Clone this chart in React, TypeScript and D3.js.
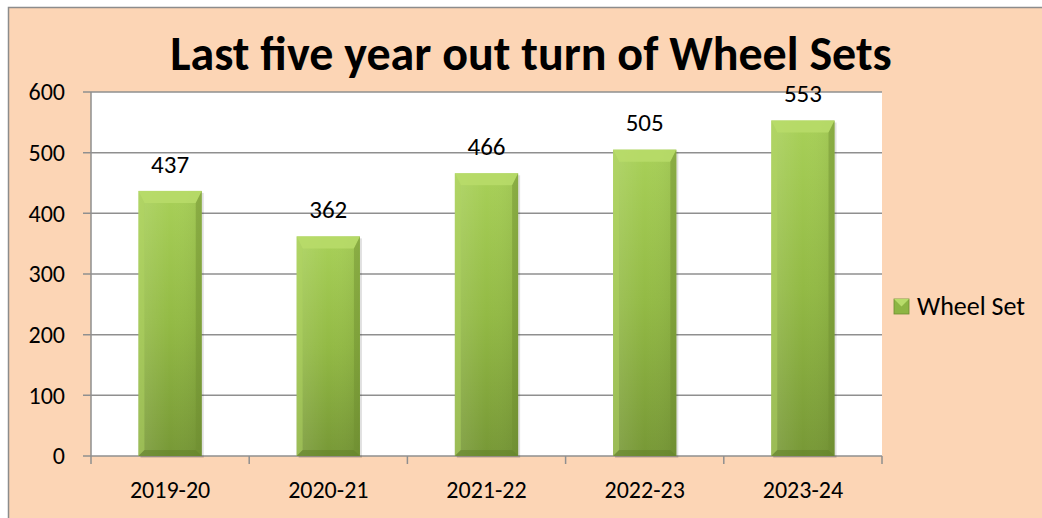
import React from "react";
import * as d3 from "d3";

const categories = ["2019-20", "2020-21", "2021-22", "2022-23", "2023-24"];
const values = [437, 362, 466, 505, 553];
const yTicks = [0, 100, 200, 300, 400, 500, 600];
const seriesName = "Wheel Set";
const title = "Last five year out turn of Wheel Sets";

const W = 1042, H = 518;
const plot = { left: 91, right: 882, top: 92, bottom: 456 };
const FONT = "Carlito, Calibri, Lato, 'Open Sans', sans-serif";

export default function App() {
  const x = d3.scaleBand<string>().domain(categories).range([plot.left, plot.right]).paddingInner(0.6).paddingOuter(0.3);
  const xb = d3.scaleBand<string>().domain(categories).range([plot.left, plot.right]);
  const y = d3.scaleLinear().domain([0, 600]).range([plot.bottom, plot.top]);
  const bw = x.bandwidth();
  const bev = 6;
  return (
    <svg width={W} height={H} style={{ position: "absolute", left: 0, top: 0 }}>
      <defs>
        <linearGradient id="barG" x1="0" y1="0" x2="0" y2="1">
          <stop offset="0" stopColor="#A8D058" />
          <stop offset="0.5" stopColor="#93BA45" />
          <stop offset="1" stopColor="#779836" />
        </linearGradient>
        <linearGradient id="barH" x1="0" y1="0" x2="1" y2="0">
          <stop offset="0" stopColor="#ffffff" stopOpacity="0.12" />
          <stop offset="0.5" stopColor="#ffffff" stopOpacity="0" />
          <stop offset="1" stopColor="#000000" stopOpacity="0.06" />
        </linearGradient>
      </defs>
      <rect x={8.5} y={7.5} width={W + 20} height={H + 20} fill="#FCD5B5" stroke="#8c8c8c" strokeWidth={1.5} />
      <rect x={plot.left} y={plot.top} width={plot.right - plot.left} height={plot.bottom - plot.top} fill="#ffffff" />
      {yTicks.map((t) => (
        <g key={t}>
          <line x1={plot.left - 8} x2={plot.right} y1={y(t)} y2={y(t)} stroke="#8f8f8f" strokeWidth={1.5} />
          <text x={65} y={y(t)} dy="0.35em" textAnchor="end" fontFamily={FONT} fontSize={24} fill="#000">{t}</text>
        </g>
      ))}
      <line x1={plot.left} x2={plot.left} y1={plot.top} y2={plot.bottom + 8} stroke="#8f8f8f" strokeWidth={1.5} />
      {categories.map((c) => (
        <line key={"t" + c} x1={(xb(c) as number) + xb.bandwidth()} x2={(xb(c) as number) + xb.bandwidth()} y1={plot.bottom} y2={plot.bottom + 8} stroke="#8f8f8f" strokeWidth={1.5} />
      ))}
      {categories.map((c, i) => {
        const x0 = x(c) as number;
        const y0 = y(values[i]);
        const y1 = y(0);
        return (
          <g key={c}>
            <rect x={x0 + 2} y={y0 + 2} width={bw} height={y1 - y0} fill="#000" opacity={0.12} />
            <rect x={x0} y={y0} width={bw} height={y1 - y0} fill="url(#barG)" />
            <rect x={x0} y={y0} width={bw} height={y1 - y0} fill="url(#barH)" />
            <polygon points={`${x0},${y0} ${x0 + bw},${y0} ${x0 + bw - bev},${y0 + bev * 2} ${x0 + bev},${y0 + bev * 2}`} fill="#B8DC6A" opacity={0.85} />
            <polygon points={`${x0},${y0} ${x0 + bev},${y0 + bev * 2} ${x0 + bev},${y1 - bev} ${x0},${y1}`} fill="#B0D460" opacity={0.5} />
            <polygon points={`${x0 + bw},${y0} ${x0 + bw - bev},${y0 + bev * 2} ${x0 + bw - bev},${y1 - bev} ${x0 + bw},${y1}`} fill="#6E8E30" opacity={0.45} />
            <polygon points={`${x0},${y1} ${x0 + bev},${y1 - bev} ${x0 + bw - bev},${y1 - bev} ${x0 + bw},${y1}`} fill="#5F7D28" opacity={0.5} />
            <text x={x0 + bw / 2} y={y0 - 27} dy="0.35em" textAnchor="middle" fontFamily={FONT} fontSize={25} fill="#000">{values[i]}</text>
            <text x={(xb(c) as number) + xb.bandwidth() / 2} y={490} dy="0.35em" textAnchor="middle" fontFamily={FONT} fontSize={24} fill="#000">{c}</text>
          </g>
        );
      })}
      <text x={531} y={70} textAnchor="middle" fontFamily={FONT} fontWeight="bold" fontSize={48} fill="#000">{title}</text>
      <g>
        <rect x={894} y={299} width={15} height={15} fill="#8DB543" stroke="#6E8E30" strokeWidth={0.8} />
        <polygon points="894,299 909,299 901.5,306.5" fill="#B8DC6A" />
        <text x={917} y={306} dy="0.35em" fontFamily={FONT} fontSize={26} fill="#000">{seriesName}</text>
      </g>
    </svg>
  );
}
